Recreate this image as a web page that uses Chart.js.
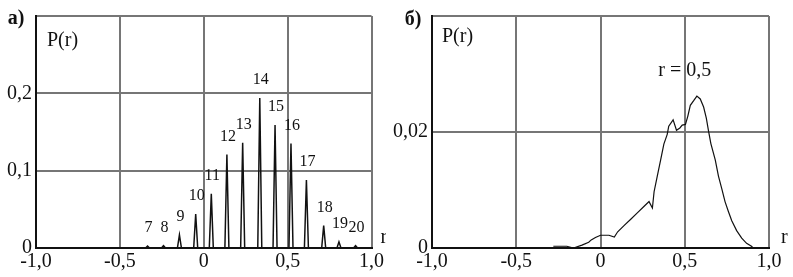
<!DOCTYPE html>
<html>
<head>
<meta charset="utf-8">
<script src="https://cdn.jsdelivr.net/npm/chart.js@4.4.1/dist/chart.umd.min.js"></script>
<style>
  body { margin: 0; background: #fff; width: 793px; height: 277px; overflow: hidden; position: relative; }
  .panel { position: absolute; top: 0; height: 277px; }
  #panelA { left: 0; width: 386px; }
  #panelB { left: 386px; width: 407px; }
</style>
</head>
<body>
<div class="panel" id="panelA"><canvas id="chartA" width="386" height="277"></canvas></div>
<div class="panel" id="panelB"><canvas id="chartB" width="407" height="277"></canvas></div>
<script>
// а) discrete spectrum, spikes numbered 7..20
var spikeNum = ["7","8","9","10","11","12","13","14","15","16","17","18","19","20"];
var spikeR = [-0.335, -0.24, -0.145, -0.048, 0.045, 0.138, 0.232, 0.334, 0.425, 0.52, 0.612, 0.715, 0.806, 0.905];
var spikeP = [0.0025, 0.003, 0.017, 0.044, 0.07, 0.121, 0.136, 0.194, 0.159, 0.135, 0.088, 0.029, 0.008, 0.003];

// б) continuous curve
var curveR = [-0.28, -0.2, -0.16, -0.11, -0.07, -0.055, -0.03, 0.0, 0.05, 0.082, 0.102, 0.141, 0.181, 0.22, 0.259, 0.288, 0.308,
  0.318, 0.337, 0.357, 0.376, 0.396, 0.405, 0.431, 0.451, 0.471, 0.485, 0.504, 0.518, 0.533, 0.553, 0.572, 0.592, 0.612,
  0.628, 0.641, 0.655, 0.681, 0.7, 0.72, 0.739, 0.759, 0.779, 0.808, 0.838, 0.867, 0.896, 0.906];
var curveP = [0.0003, 0.0003, 0.0, 0.0005, 0.001, 0.0014, 0.0018, 0.0022, 0.0022, 0.0019, 0.0028, 0.0039, 0.005, 0.0061, 0.0072, 0.008, 0.0069,
  0.0097, 0.0124, 0.0152, 0.0179, 0.0196, 0.021, 0.0221, 0.0203, 0.0207, 0.0212, 0.0213, 0.0227, 0.0246, 0.0254, 0.0262, 0.0257, 0.0243,
  0.0224, 0.0202, 0.018, 0.0152, 0.0124, 0.0102, 0.008, 0.0063, 0.0047, 0.003, 0.0017, 0.0008, 0.0003, 0.0];

var xTickLabels = ["-1,0", "-0,5", "0", "0,5", "1,0"];
var yTickLabelsA = ["0", "0,1", "0,2"];
var yTickLabelsB = ["0", "0,02"];

var FONT = "'Liberation Serif', 'DejaVu Serif', serif";
var GRID = "#767676";

// narrow triangular peaks built from the spike arrays
var spikeHalf = 0.012;
var spikePts = [];
for (var i = 0; i < spikeR.length; i++) {
  spikePts.push({x: spikeR[i] - spikeHalf, y: 0});
  spikePts.push({x: spikeR[i], y: spikeP[i]});
  spikePts.push({x: spikeR[i] + spikeHalf, y: 0});
}
var curvePts = curveR.map(function (r, i) { return {x: r, y: curveP[i]}; });

function scalesFor(yMax, yStep, yLabels, yWidth) {
  return {
    x: {
      type: "linear", min: -1, max: 1,
      ticks: {
        stepSize: 0.5, padding: 2, color: "#111", maxRotation: 0,
        font: {family: FONT, size: 20},
        callback: function (v) { return xTickLabels[Math.round((v + 1) / 0.5)]; }
      },
      grid: {color: GRID, lineWidth: 2, drawTicks: false},
      border: {display: true, color: "#111", width: 2},
      afterFit: function (s) { s.height = 29; }
    },
    y: {
      min: 0, max: yMax,
      ticks: {
        stepSize: yStep, padding: 4, color: "#111",
        font: {family: FONT, size: 20},
        callback: function (v) { var k = Math.round(v / yStep); return k < yLabels.length ? yLabels[k] : ""; }
      },
      grid: {color: GRID, lineWidth: 2, drawTicks: false},
      border: {display: true, color: "#111", width: 2},
      afterFit: function (s) { s.width = yWidth; }
    }
  };
}

function textPlugin(items) {
  return {
    id: "notes",
    afterDraw: function (chart) {
      var ctx = chart.ctx, a = chart.chartArea;
      ctx.save();
      ctx.fillStyle = "#111";
      ctx.textBaseline = "middle";
      items(chart, ctx, a);
      ctx.restore();
    }
  };
}

new Chart("chartA", {
  type: "line",
  data: {datasets: [{data: spikePts, borderColor: "#111", borderWidth: 1.5, pointRadius: 0, tension: 0, fill: false}]},
  options: {
    responsive: false, animation: false,
    layout: {padding: {top: 7, right: 13, left: 0, bottom: 0}},
    plugins: {legend: {display: false}, tooltip: {enabled: false}},
    scales: scalesFor(0.3, 0.1, yTickLabelsA, 36)
  },
  plugins: [textPlugin(function (chart, ctx, a) {
    ctx.font = "bold 20px " + FONT;
    ctx.textAlign = "center";
    ctx.fillText("а)", 16, 19);
    ctx.font = "20px " + FONT;
    ctx.textAlign = "left";
    ctx.fillText("P(r)", a.left + 11, a.top + 25);
    ctx.fillText("r", a.right + 9, a.bottom - 10);
    ctx.font = "16px " + FONT;
    ctx.textAlign = "center";
    var xs = chart.scales.x, ys = chart.scales.y;
    for (var i = 0; i < spikeNum.length; i++) {
      ctx.fillText(spikeNum[i], xs.getPixelForValue(spikeR[i]) + 1, ys.getPixelForValue(spikeP[i]) - 18);
    }
  })]
});

new Chart("chartB", {
  type: "line",
  data: {datasets: [{data: curvePts, borderColor: "#111", borderWidth: 1.2, pointRadius: 0, tension: 0, fill: false}]},
  options: {
    responsive: false, animation: false,
    layout: {padding: {top: 7, right: 24, left: 0, bottom: 0}},
    plugins: {legend: {display: false}, tooltip: {enabled: false}},
    scales: scalesFor(0.04, 0.02, yTickLabelsB, 46)
  },
  plugins: [textPlugin(function (chart, ctx, a) {
    ctx.font = "bold 20px " + FONT;
    ctx.textAlign = "center";
    ctx.fillText("б)", 27, 20);
    ctx.font = "20px " + FONT;
    ctx.textAlign = "left";
    ctx.fillText("P(r)", a.left + 10, a.top + 21);
    ctx.fillText("r", a.right + 12, a.bottom - 10);
    ctx.textAlign = "center";
    ctx.fillText("r = 0,5", chart.scales.x.getPixelForValue(0.5), a.top + 55);
  })]
});
</script>
</body>
</html>
